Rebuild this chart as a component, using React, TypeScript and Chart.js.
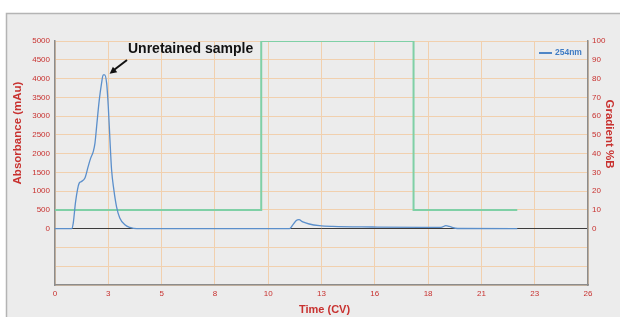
import React, { useEffect, useRef } from "react";
import { Chart, registerables } from "chart.js";

Chart.register(...registerables);

// UV 254 nm trace (Time in CV, absorbance in mAu)
const uvTime = [0, 0.81, 0.89, 1.0, 1.1, 1.18, 1.3, 1.46, 1.62, 1.74, 1.87, 1.95, 2.03, 2.16, 2.27, 2.35, 2.42, 2.52, 2.6, 2.68, 2.76, 2.87, 3.0, 3.16, 3.41, 3.65, 4.0, 11.44, 11.6, 11.77, 11.9, 12.09, 12.4, 12.9, 13.55, 15.5, 17.9, 18.83, 19.07, 19.23, 19.64, 22.55];
const uvValues = [0, 0, 150, 700, 1050, 1215, 1260, 1350, 1660, 1880, 2060, 2280, 2720, 3430, 3870, 4100, 4100, 3870, 3250, 2370, 1570, 1040, 590, 285, 105, 35, 0, 0, 100, 220, 240, 180, 125, 80, 60, 45, 35, 35, 80, 60, 5, 0];

// Gradient %B
const gradTime = [0, 10.06, 10.06, 17.49, 17.49, 22.55];
const gradValues = [10, 10, 100, 100, 10, 10];

// Axis ticks
const xTickPositions = [0, 2.6, 5.2, 7.8, 10.4, 13, 15.6, 18.2, 20.8, 23.4, 26];
const xTickLabels = ["0", "3", "5", "8", "10", "13", "16", "18", "21", "23", "26"];

const RED = "#c8312f";
const GRID = "#f1d0ae";
const AXIS = "#8c8c8c";
const FONT = "'Liberation Sans', Arial, Helvetica, sans-serif";

const decorPlugin = {
  id: "decor",
  beforeDraw(chart: any) {
    const ctx = chart.ctx;
    ctx.save();
    ctx.fillStyle = "#ffffff";
    ctx.fillRect(0, 0, chart.width, chart.height);
    ctx.fillStyle = "#ececec";
    ctx.fillRect(6, 13, chart.width - 6, chart.height - 13);
    ctx.strokeStyle = "#b4b4b4";
    ctx.lineWidth = 1.5;
    ctx.beginPath();
    ctx.moveTo(6.5, chart.height);
    ctx.lineTo(6.5, 13.5);
    ctx.lineTo(chart.width, 13.5);
    ctx.stroke();
    ctx.restore();
  },
  afterDraw(chart: any) {
    const ctx = chart.ctx;
    const ys = chart.scales.y;
    const xs = chart.scales.x;
    ctx.save();
    // axis titles
    ctx.fillStyle = RED;
    ctx.font = `bold 11.5px ${FONT}`;
    ctx.textAlign = "center";
    ctx.textBaseline = "middle";
    ctx.save();
    ctx.translate(18, 133);
    ctx.rotate(-Math.PI / 2);
    ctx.fillText("Absorbance (mAu)", 0, 0);
    ctx.restore();
    ctx.save();
    ctx.translate(609, 134);
    ctx.rotate(Math.PI / 2);
    ctx.fillText("Gradient %B", 0, 0);
    ctx.restore();
    ctx.font = `bold 11px ${FONT}`;
    ctx.fillText("Time (CV)", (xs.left + xs.right) / 2 + 3, 310);

    // legend
    ctx.strokeStyle = "#4f86c6";
    ctx.lineWidth = 2;
    ctx.beginPath();
    ctx.moveTo(539, 53);
    ctx.lineTo(552, 53);
    ctx.stroke();
    ctx.fillStyle = "#3f7cc4";
    ctx.font = `bold 8.5px ${FONT}`;
    ctx.textAlign = "left";
    ctx.fillText("254nm", 555, 53);

    // annotation
    ctx.fillStyle = "#111111";
    ctx.font = `bold 14px ${FONT}`;
    ctx.textAlign = "left";
    ctx.fillText("Unretained sample", 128, 49);
    const peakX = xs.getPixelForValue(2.42);
    const peakY = ys.getPixelForValue(4100);
    const tipX = peakX + 5, tipY = peakY - 1;
    const tailX = 127, tailY = 60;
    ctx.strokeStyle = "#111111";
    ctx.lineWidth = 2;
    ctx.beginPath();
    ctx.moveTo(tailX, tailY);
    ctx.lineTo(tipX + 4, tipY - 3.5);
    ctx.stroke();
    const ang = Math.atan2(tipY - tailY, tipX - tailX);
    ctx.fillStyle = "#111111";
    ctx.beginPath();
    ctx.moveTo(tipX, tipY);
    ctx.lineTo(tipX - 7 * Math.cos(ang) + 3.5 * Math.sin(ang), tipY - 7 * Math.sin(ang) - 3.5 * Math.cos(ang));
    ctx.lineTo(tipX - 7 * Math.cos(ang) - 3.5 * Math.sin(ang), tipY - 7 * Math.sin(ang) + 3.5 * Math.cos(ang));
    ctx.closePath();
    ctx.fill();
    ctx.restore();
  },
};

export default function App() {
  const ref = useRef<HTMLCanvasElement>(null);
  useEffect(() => {
    if (!ref.current) return;
    const chart = new Chart(ref.current, {
      type: "line",
      data: {
        datasets: [
          {
            label: "254nm",
            data: uvTime.map((t, i) => ({ x: t, y: uvValues[i] })),
            borderColor: "#5b8fcb",
            borderWidth: 1.3,
            pointRadius: 0,
            tension: 0.35,
            cubicInterpolationMode: "monotone",
            yAxisID: "y",
            order: 1,
          },
          {
            label: "%B",
            data: gradTime.map((t, i) => ({ x: t, y: gradValues[i] })),
            borderColor: "#7fd0a6",
            borderWidth: 2,
            pointRadius: 0,
            tension: 0,
            yAxisID: "y2",
            order: 2,
          },
        ],
      },
      options: {
        animation: false,
        responsive: false,
        devicePixelRatio: 1,
        layout: { padding: { top: 41, left: 0, right: 0, bottom: 0 } },
        plugins: { legend: { display: false }, tooltip: { enabled: false } },
        scales: {
          x: {
            type: "linear",
            min: 0,
            max: 26,
            afterFit: (s: any) => { s.height = 32; },
            afterBuildTicks: (s: any) => { s.ticks = xTickPositions.map((v) => ({ value: v })); },
            ticks: {
              autoSkip: false,
              maxRotation: 0,
              padding: 4,
              color: RED,
              font: { family: FONT, size: 8 },
              callback: (_v: any, i: number) => xTickLabels[i],
            },
            grid: { color: GRID, lineWidth: 1, drawTicks: false },
            border: { display: true, color: AXIS, width: 1.5 },
          },
          y: {
            position: "left",
            min: -1500,
            max: 5000,
            afterFit: (s: any) => { s.width = 55; },
            ticks: {
              stepSize: 500,
              padding: 5,
              color: RED,
              font: { family: FONT, size: 8 },
              callback: (v: any) => (v < 0 ? "" : String(v)),
            },
            grid: {
              drawTicks: false,
              lineWidth: 1,
              color: (c: any) => (c.tick && c.tick.value === 0 ? "#3c3c3c" : GRID),
            },
            border: { display: true, color: AXIS, width: 1.5 },
          },
          y2: {
            position: "right",
            min: -30,
            max: 100,
            afterFit: (s: any) => { s.width = 32; },
            ticks: {
              stepSize: 10,
              padding: 4,
              color: RED,
              font: { family: FONT, size: 8 },
              callback: (v: any) => (v < 0 ? "" : String(v)),
            },
            grid: { display: false, drawTicks: false },
            border: { display: true, color: AXIS, width: 1.5 },
          },
        },
      },
      plugins: [decorPlugin],
    } as any);
    return () => chart.destroy();
  }, []);
  return (
    <div style={{ position: "fixed", left: 0, top: 0, width: 620, height: 317 }}>
      <canvas ref={ref} width={620} height={317} style={{ width: 620, height: 317, display: "block" }} />
    </div>
  );
}
